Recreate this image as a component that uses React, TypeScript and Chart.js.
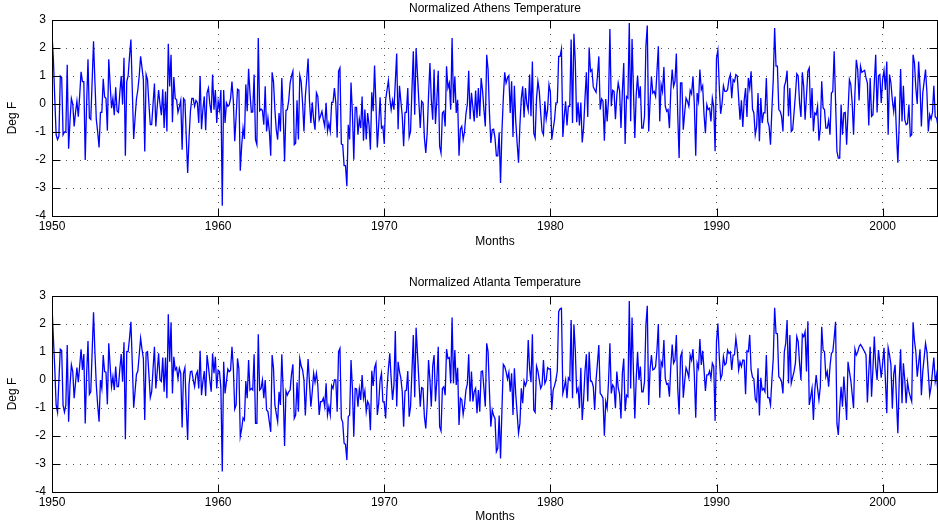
import React, { useEffect, useRef } from "react";
import { Chart, registerables } from "chart.js";

Chart.register(...registerables);

// ---------------- data ----------------
const START_YEAR = 1950;
const MONTHS_PER_YEAR = 12;
const yearTicks = [1950, 1960, 1970, 1980, 1990, 2000];
const degTicks = [-4, -3, -2, -1, 0, 1, 2, 3];
const athensTitle = "Normalized Athens Temperature";
const atlantaTitle = "Normalized Atlanta Temperature";
const xAxisLabel = "Months";
const yAxisLabel = "Deg F";

// monthly normalized temperature, Jan 1950 onward
const athensTemp = [
  2.5, 1.6, 0.2, -1.1, -1.27, -1.15, 1.0, 0.95, -1.1, -1.0,
  -1.0, 1.4, -1.6, -0.6, 0.2, 0.0, -0.8, -0.3, 0.1, -0.45,
  0.3, 1.15, 0.8, 0.8, -2.0, 0.0, 1.6, -0.5, -0.55, 0.8,
  2.24, 0.8, -0.55, -1.0, -1.55, -0.3, -0.3, 0.9, 0.25, 0.2,
  -0.95, 1.6, 0.7, -0.15, 0.2, -0.4, 0.6, -0.25, -0.3, 0.4,
  1.0, 0.0, 1.65, -1.85, 0.8, 1.0, 1.7, 2.3, 0.5, -1.25,
  -0.5, 0.18, 0.5, 1.0, 1.7, 1.3, 0.87, -1.7, 1.05, 0.87,
  0.0, -0.74, -0.74, 0.0, 0.73, -0.8, -0.1, 0.5, 0.0, -0.4,
  0.53, -0.86, 0.45, -0.98, 2.15, 0.63, 1.76, -0.65, 0.96, 0.2,
  0.15, -0.3, -0.1, 0.13, -1.63, 0.2, 0.13, -1.2, -2.46, -1.2,
  -0.26, 0.2, 0.2, -0.08, 0.13, 0.05, -0.68, 1.0, -0.9, -0.2,
  0.27, -0.94, 0.4, 0.57, 0.0, -0.32, 1.05, -0.2, 0.5, -0.68,
  0.1, -0.2, 0.5, -3.63, 0.5, -0.68, 0.04, -0.08, -0.03, 0.2,
  0.8, 0.1, -1.33, -0.44, 0.53, 0.5, -2.38, -1.5, -0.86, -1.25,
  0.7, -0.26, 1.26, 0.4, -0.29, -0.28, 1.05, -1.27, -1.45, 2.36,
  -0.24, -0.18, -0.23, -0.74, 0.63, -0.98, -0.5, -0.98, -1.85, 1.13,
  0.8, -0.2, -0.92, -1.27, -0.32, -0.98, 0.93, -0.38, -2.05, -0.23,
  -0.2, 0.13, 0.75, 1.0, 1.17, -1.45, -1.4, 0.13, -1.27, 1.02,
  0.8, 0.04, -0.98, 0.27, 0.9, 1.62, 0.1, -0.68, 0.06, -0.56,
  -0.92, 0.4, 0.27, -0.56, -0.42, -0.26, -0.56, -0.8, 0.04, -0.98,
  -0.7, -0.98, 0.06, 0.06, 0.57, 0.04, -1.2, 1.17, 1.29, -1.43,
  -1.45, -2.2, -2.2, -2.94, -0.74, -1.27, 0.77, -0.32, -1.99, -0.12,
  -0.12, -1.1, -0.54, -0.86, 0.27, -1.31, -0.2, -1.27, -0.32, -0.74,
  -1.63, 0.42, -0.26, 1.37, 0.0, -1.55, -0.74, 0.24, -0.86, -0.8,
  -1.43, 0.15, 0.5, 0.83, 0.21, -0.2, 0.13, -0.2, 0.8, 1.8,
  -0.9, 0.65, 0.1, -0.42, -1.51, -0.3, -0.3, 0.57, -1.18, -0.98,
  0.5, 1.88, -0.38, 1.99, 1.05, 0.1, -0.86, 0.1, 0.04, -1.21,
  -1.75, -1.04, 0.3, 1.46, 0.15, -0.56, 1.23, -0.71, 0.15, 1.19,
  -1.51, -1.75, -0.32, -0.26, -0.8, 1.35, 0.57, 0.75, -0.2, 2.36,
  0.04, 0.99, -0.32, 0.15, -1.85, -0.9, -0.8, -1.27, -0.98, -0.35,
  -0.02, 1.19, -0.54, 0.4, -0.1, -0.62, 0.48, -0.5, 0.57, -0.44,
  0.93, 0.48, -0.2, -0.8, 1.76, 1.23, -0.32, -1.39, -0.92, -0.9,
  -1.21, -1.85, -1.85, -1.01, -2.82, -1.0, 0.2, 1.13, 0.75, 0.93,
  1.01, -0.32, 0.81, -1.18, 0.65, -0.62, -1.4, -2.1, -0.74, 0.2,
  0.63, -0.48, 0.57, 0.0, -0.23, 1.05, -0.44, 1.52, -1.04, -1.21,
  0.2, 0.81, 0.45, -0.32, -0.98, -1.1, 0.1, -0.54, -0.2, 0.69,
  0.43, -1.27, -0.9, -0.56, 0.04, 0.05, 1.7, 1.7, 1.96, -1.18,
  -0.46, 0.1, -0.77, -0.08, -0.08, 2.3, -0.68, 2.51, 1.52, -0.65,
  0.06, -0.77, 0.05, -1.37, -0.86, 0.2, 1.13, -0.46, 2.02, 1.17,
  1.23, 0.61, 0.51, 0.42, 1.0, 1.7, -0.2, 0.18, 0.1, -1.31,
  0.18, -0.62, 0.15, 2.68, -0.08, 0.49, 0.45, -0.54, 0.3, 0.75,
  0.48, -0.86, 0.45, 1.46, -1.43, 0.27, 0.21, 2.89, -0.62, 2.32,
  0.5, -1.21, 0.33, 1.02, 0.21, 0.63, -0.86, -0.86, -0.44, 2.06,
  2.8, -0.98, 0.06, 0.99, 0.39, 0.45, 0.27, 1.17, 2.06, -0.62,
  0.69, 0.45, 1.32, -0.08, -0.26, -0.2, -0.86, 0.5, 1.23, 0.63,
  0.81, 1.8, -0.38, -1.93, 0.75, 0.75, -0.92, -0.32, 0.21, 0.1,
  -0.08, 0.49, 0.36, 0.99, -0.02, -1.85, 0.39, 0.1, 1.23, 0.51,
  0.65, -0.38, -1.04, -0.02, -0.2, -0.15, -0.62, 0.21, -0.1, -1.69,
  1.64, 1.92, 0.63, -0.35, 0.01, 0.65, 0.45, 0.45, 0.51, 0.89,
  1.05, 0.21, 0.87, 0.8, 1.05, 1.0, 0.2, -0.56, 0.13, -0.82,
  0.13, 0.57, -0.46, 0.93, 0.57, 1.17, -0.18, -0.32, -1.1, -0.8,
  0.39, -1.33, 0.21, -0.68, -0.32, -0.32, 0.93, -0.62, -0.8, -1.45,
  -0.2, 0.87, 2.71, 1.35, 1.35, -0.2, -0.26, -0.44, -0.98, 0.63,
  0.81, 1.19, -0.44, 0.57, -0.98, -0.92, -0.32, 0.33, 1.08, 1.0,
  0.04, -0.46, 1.13, 0.61, -0.56, 0.3, 1.17, 1.29, -0.5, 0.57,
  -0.98, -0.32, -0.38, -0.08, -1.31, -0.86, 0.81, -0.14, -0.2, -0.86,
  -0.86, -0.58, -1.1, 0.39, 0.45, 1.88, 0.1, -1.69, -1.93, -1.93,
  -0.02, -1.1, -0.32, -0.3, -1.45, -0.3, 0.87, 0.69, 0.04, -1.1,
  0.39, 1.58, 1.23, 0.13, 1.35, 1.13, 1.17, 1.2, 0.93, 0.75,
  -0.77, 0.93, -0.44, -0.38, 0.75, 1.76, -0.3, 1.01, 1.05, 0.04,
  0.87, 1.2, 0.5, 1.52, -1.1, 1.05, 0.75, 0.15, -0.26, 0.27,
  -1.04, -2.1, -0.68, 1.25, -0.62, 0.65, -0.56, -0.74, -0.7, -0.02,
  -1.15, -1.1, 1.76, 1.46, 0.57, 0.0, 1.52, 0.63, -0.8, 0.39,
  0.81, 1.23, 0.4, -0.98, -0.38, -0.54, -0.3, 0.65, -0.46, -0.5,
  -0.8,
];

const atlantaTemp = [
  2.65, 1.5, 0.42, -0.9, -1.15, 0.0, 1.1, 1.05, -0.9, -1.15,
  -0.9, 1.25, -1.49, -0.2, 0.54, 0.3, -0.65, -0.1, 0.44, -0.08,
  0.5, 1.1, 0.36, 0.93, -1.55, 0.2, 1.39, -0.51, -0.42, 1.0,
  2.42, 1.0, -0.18, -0.9, -1.49, 0.0, -0.3, 0.89, 0.3, 0.28,
  -0.87, 1.31, 0.5, -0.24, 0.12, -0.36, 0.48, -0.24, -0.24, 0.4,
  0.93, -0.06, 1.35, -2.12, 1.01, 1.01, 1.5, 2.08, 0.6, -0.99,
  -0.4, 0.2, 0.32, 0.9, 1.49, 1.1, 0.77, -1.43, 0.98, 1.01,
  0.2, -0.63, -0.42, 0.4, 1.19, -0.3, 0.3, 0.95, 0.0, -0.05,
  0.8, -0.42, 0.8, -0.65, 2.35, 0.65, 2.06, -0.48, 0.83, 0.36,
  0.44, 0.05, 0.42, 0.24, -1.7, 0.24, 0.44, -1.0, -2.14, -0.15,
  0.3, 0.32, 0.0, -0.24, 0.18, 0.3, -0.3, 1.04, -0.54, -0.06,
  0.32, -0.57, 0.89, 0.48, 0.0, -0.42, 0.95, 0.24, 0.83, -0.3,
  0.35, 0.3, -0.3, -3.27, 0.65, -0.48, -0.06, 0.39, 0.3, 0.35,
  1.19, 0.42, -1.04, -0.89, 0.77, 0.39, -2.02, -1.75, -1.35, -1.43,
  -0.04, -0.65, 0.71, -0.36, -0.3, -0.36, 0.92, -1.55, -1.55, 1.63,
  -0.36, -0.3, 0.0, -0.65, 0.0, -1.07, -1.13, -1.5, -1.85, 0.89,
  0.42, -0.89, -1.2, -1.49, -0.42, -0.89, 0.92, -0.4, -2.36, -0.39,
  -0.54, -0.42, -0.36, 0.2, 0.56, -1.37, -1.25, -0.08, -1.13, 0.77,
  0.5, 0.36, 0.0, -1.27, -0.18, 0.75, -0.12, -0.95, -0.42, 0.24,
  -0.08, 0.24, -0.18, -1.25, -0.77, -0.77, -0.65, -0.95, -0.12, -1.25,
  -0.95, -1.25, -0.2, -0.3, 0.0, 0.0, -1.13, 1.01, 1.13, -1.37,
  -1.51, -2.26, -2.3, -2.86, -1.31, -1.25, 0.71, -0.3, -2.02, -0.3,
  -0.32, -0.95, -0.32, -0.71, 0.18, -0.65, -0.39, -1.13, -0.77, -0.89,
  -1.79, 0.33, -0.21, 0.44, 0.6, -1.25, -0.83, 0.0, 0.24, -0.77,
  -0.81, -1.37, -0.3, 0.4, 0.95, 0.04, -0.71, -0.18, 1.75, -0.95,
  0.65, 0.3, 0.06, -0.42, -1.67, -0.39, -0.36, 0.32, -1.31, -0.95,
  0.3, 1.61, -0.62, 1.87, 0.95, 0.0, -0.95, -0.27, -0.3, -1.31,
  -1.73, -0.89, 0.71, 0.0, -0.95, 0.5, 0.89, -0.77, 0.0, 1.19,
  -1.67, -1.82, -0.3, -0.24, -0.54, 1.1, 0.77, 0.8, -0.12, 2.23,
  -0.12, 1.07, -0.18, 0.44, -1.61, -0.65, -0.71, -1.23, -0.89, -0.36,
  -0.15, 0.92, -0.77, 0.3, -0.77, -0.42, -0.3, -1.19, -0.36, -1.13,
  0.3, 0.32, -0.3, -0.95, 1.31, 1.01, -0.42, -1.67, -1.07, -1.27,
  -1.37, -2.56, -2.44, -1.27, -2.8, -1.1, 0.56, 0.48, 0.3, 0.04,
  0.27, -0.42, 0.24, -1.25, 0.42, -0.51, -1.2, -1.9, -1.55, -0.3,
  -0.83, -0.04, -0.2, -0.04, 1.43, 0.4, -0.08, 1.63, -1.07, -1.15,
  0.5, 0.32, 0.0, -0.3, -0.18, 0.71, -0.12, 0.0, 0.44, 0.39,
  0.4, -1.07, -0.36, -0.2, 0.0, 0.32, 2.44, 2.54, 2.56, -0.48,
  -0.27, 0.0, -0.65, 0.08, 0.0, 2.14, -0.65, 1.99, 1.07, -0.42,
  -0.3, -1.01, 0.44, -1.43, -0.71, 0.3, 0.92, -0.77, 1.01, -0.04,
  -0.06, -0.24, -1.07, 0.0, 0.6, 1.25, -0.48, -0.54, -0.65, -1.99,
  -0.77, -1.01, -0.06, 1.31, -0.48, -0.18, -0.27, -1.01, 0.3, -0.27,
  -0.5, -1.37, 0.24, 0.77, -1.11, -0.54, -0.6, 2.82, -0.3, 2.23,
  0.3, -1.37, 0.04, 1.01, 0.0, 0.48, -0.42, -0.42, -0.06, 1.96,
  2.65, -0.89, 0.36, 0.89, 0.36, 0.39, 0.48, 1.07, 2.0, -0.63,
  0.65, 0.51, 1.43, 0.06, -0.15, -0.12, -0.6, 0.5, 1.27, 0.6,
  0.71, 1.61, -0.3, -1.23, 0.83, 0.99, -0.63, -0.06, 0.44, 0.3,
  0.08, 0.89, 0.71, 1.1, 0.18, -1.35, 0.6, 0.42, 1.46, 0.54,
  1.04, 0.36, -0.39, 0.18, 0.18, 0.32, 0.06, 0.6, 0.48, -1.46,
  1.37, 2.02, 0.83, 0.04, 0.18, 0.83, 0.54, 0.6, 1.07, 0.95,
  1.0, 0.36, 0.89, 0.9, 1.49, 1.07, 0.36, 0.65, 0.48, 0.71,
  0.7, -0.51, 1.04, 1.01, 1.61, 0.36, 0.1, 0.04, -0.68, -0.77,
  0.42, -1.27, 0.08, -0.36, -0.3, -0.42, 0.89, -0.63, -0.63, -0.89,
  0.0, 0.77, 2.58, 1.67, 1.65, 0.12, 0.06, -0.06, -0.48, 1.01,
  1.31, 2.14, -0.12, 1.61, -0.12, 0.1, 0.3, 0.6, 1.55, 1.37,
  0.6, 0.0, 1.63, 1.55, 1.73, 0.3, 2.1, -0.89, -0.6, -0.3,
  -1.43, -0.36, 0.18, -0.3, -0.71, -0.24, 1.9, 1.07, 1.01, 0.12,
  0.3, -0.24, 0.5, 0.95, 1.01, 1.5, 2.08, -1.55, -1.96, -1.0,
  -0.24, -0.95, 0.12, -0.6, -1.43, 0.65, 0.3, 0.0, -0.5, -1.01,
  1.1, 0.89, 1.0, 1.19, 1.27, 1.19, 1.1, 1.01, 0.9, -0.8,
  0.3, 1.19, -0.6, 0.4, 1.55, 0.5, 0.0, 1.07, 0.6, 0.08,
  0.6, 1.15, 0.0, -1.19, 1.15, 0.89, 0.54, -1.01, 0.2, 0.54,
  -0.7, -1.9, 0.0, 1.1, -0.83, 0.6, 0.0, -0.83, -0.08, -0.4,
  -0.6, -0.77, 2.06, 1.4, 1.01, 0.12, 0.6, 1.1, -0.54, 0.3,
  0.8, 1.31, 1.0, 0.24, -0.54, -0.24, 0.3, 0.8, -0.06, 0.2,
  -0.54,
];

// ---------------- layout / style ----------------
const FONT_FAMILY = "'Liberation Sans', Arial, Helvetica, sans-serif";
const FONT_SIZE = 12;
const W = 938;
const PLOT_LEFT = 52;
const PLOT_TOP = 20;
const PLOT_BOTTOM = 216;
const LINE_COLOR = "#0000ff";
const GRID_COLOR = "#555555";

type PanelProps = {
  title: string;
  values: number[];
  top: number;
  height: number;
  titleY: number;
  xLabelY: number;
};

function Panel({ title, values, top, height, titleY, xLabelY }: PanelProps) {
  const ref = useRef<HTMLCanvasElement | null>(null);

  useEffect(() => {
    const canvas = ref.current;
    if (!canvas) return;
    const points = values.map((v, i) => ({ x: START_YEAR + i / MONTHS_PER_YEAR, y: v }));
    const xMax = START_YEAR + (values.length - 1) / MONTHS_PER_YEAR;

    const framePlugin = {
      id: "matlabFrame",
      afterDraw(chart: any) {
        const { ctx, chartArea: a, scales } = chart;
        const l = Math.round(a.left) + 0.5;
        const r = Math.round(a.right) - 0.5;
        const t = Math.round(a.top) + 0.5;
        const b = Math.round(a.bottom) + 0.5;
        ctx.save();
        ctx.setLineDash([]);
        ctx.strokeStyle = "#000";
        ctx.lineWidth = 1;
        ctx.strokeRect(l, t, r - l, b - t);
        const TL = 8;
        ctx.beginPath();
        yearTicks.forEach((v) => {
          const x = Math.round(scales.x.getPixelForValue(v)) + 0.5;
          ctx.moveTo(x, b);
          ctx.lineTo(x, b - TL);
          ctx.moveTo(x, t);
          ctx.lineTo(x, t + TL);
        });
        degTicks.forEach((v) => {
          const y = Math.round(scales.y.getPixelForValue(v)) + 0.5;
          ctx.moveTo(l, y);
          ctx.lineTo(l + TL, y);
          ctx.moveTo(r, y);
          ctx.lineTo(r - TL, y);
        });
        ctx.stroke();

        ctx.fillStyle = "#000";
        ctx.font = `${FONT_SIZE}px ${FONT_FAMILY}`;
        ctx.textAlign = "center";
        ctx.textBaseline = "middle";
        const cx = (a.left + a.right) / 2;
        ctx.fillText(title, cx, titleY);
        ctx.fillText(xAxisLabel, cx, xLabelY);
        ctx.translate(13, (a.top + a.bottom) / 2);
        ctx.rotate(-Math.PI / 2);
        ctx.fillText(yAxisLabel, 0, 0);
        ctx.restore();
      },
    };

    const tickFont = { family: FONT_FAMILY, size: FONT_SIZE };

    const chart = new Chart(canvas, {
      type: "line",
      data: {
        datasets: [
          {
            data: points,
            borderColor: LINE_COLOR,
            backgroundColor: LINE_COLOR,
            borderWidth: 1.3,
            pointRadius: 0,
            fill: false,
            tension: 0,
          },
        ],
      },
      options: {
        animation: false,
        responsive: false,
        devicePixelRatio: 1,
        events: [],
        layout: { padding: { top: PLOT_TOP, left: 0, right: 0, bottom: 0 } },
        plugins: {
          legend: { display: false },
          title: { display: false },
          tooltip: { enabled: false },
        },
        scales: {
          x: {
            type: "linear",
            min: START_YEAR,
            max: xMax,
            afterBuildTicks: (s: any) => {
              s.ticks = yearTicks.map((v) => ({ value: v }));
            },
            afterFit: (s: any) => {
              s.height = height - PLOT_BOTTOM;
            },
            grid: { color: GRID_COLOR, lineWidth: 1, drawTicks: false },
            border: { display: false, dash: [1, 6] },
            ticks: {
              color: "#000",
              font: tickFont,
              padding: 3,
              maxRotation: 0,
              autoSkip: false,
              callback: (v: any) => String(v),
            },
          },
          y: {
            type: "linear",
            min: -4,
            max: 3,
            afterBuildTicks: (s: any) => {
              s.ticks = degTicks.map((v) => ({ value: v }));
            },
            afterFit: (s: any) => {
              s.width = PLOT_LEFT;
            },
            grid: { color: GRID_COLOR, lineWidth: 1, drawTicks: false },
            border: { display: false, dash: [1, 6] },
            ticks: {
              color: "#000",
              font: tickFont,
              padding: 6,
              autoSkip: false,
              callback: (v: any) => String(v),
            },
          },
        },
      },
      plugins: [framePlugin],
    } as any);

    return () => chart.destroy();
  }, [title, values, top, height, titleY, xLabelY]);

  return (
    <canvas
      ref={ref}
      width={W}
      height={height}
      style={{ position: "absolute", left: 0, top, width: W, height, display: "block" }}
    />
  );
}

export default function App() {
  return (
    <div
      style={{
        position: "absolute",
        left: 0,
        top: 0,
        width: W,
        height: 525,
        background: "#fff",
        overflow: "hidden",
      }}
    >
      <Panel title={athensTitle} values={athensTemp} top={0} height={276} titleY={9} xLabelY={242} />
      <Panel title={atlantaTitle} values={atlantaTemp} top={276} height={249} titleY={7} xLabelY={241} />
    </div>
  );
}
